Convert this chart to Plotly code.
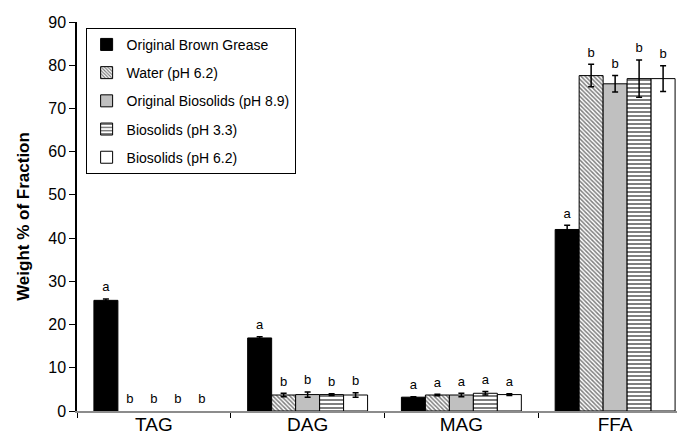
import plotly.graph_objects as go

# ---------------------------------------------------------------------------
# Data
# ---------------------------------------------------------------------------
categories = ["TAG", "DAG", "MAG", "FFA"]
series_names = [
    "Original Brown Grease",
    "Water (pH 6.2)",
    "Original Biosolids (pH 8.9)",
    "Biosolids (pH 3.3)",
    "Biosolids (pH 6.2)",
]
brown_grease = [25.6, 16.9, 3.2, 42.0]
water = [0.0, 3.7, 3.7, 77.6]
orig_biosolids = [0.0, 3.8, 3.7, 75.7]
biosolids_33 = [0.0, 3.8, 4.1, 76.9]
biosolids_62 = [0.0, 3.7, 3.8, 76.9]

brown_grease_err = [0.3, 0.3, 0.1, 1.0]
water_err = [0.0, 0.4, 0.2, 2.6]
orig_biosolids_err = [0.0, 0.6, 0.4, 1.9]
biosolids_33_err = [0.0, 0.2, 0.4, 4.3]
biosolids_62_err = [0.0, 0.5, 0.2, 3.0]

brown_grease_sig = ["a", "a", "a", "a"]
water_sig = ["b", "b", "a", "b"]
orig_biosolids_sig = ["b", "b", "a", "b"]
biosolids_33_sig = ["b", "b", "a", "b"]
biosolids_62_sig = ["b", "b", "a", "b"]

values = [brown_grease, water, orig_biosolids, biosolids_33, biosolids_62]
errors = [brown_grease_err, water_err, orig_biosolids_err, biosolids_33_err, biosolids_62_err]
letters = [brown_grease_sig, water_sig, orig_biosolids_sig, biosolids_33_sig, biosolids_62_sig]

# ---------------------------------------------------------------------------
# Styling
# ---------------------------------------------------------------------------
FONT = "Liberation Sans, Arial, sans-serif"
BARGAP = 0.22
styles = [
    dict(color="black", pattern=dict(shape="")),
    dict(color="white", pattern=dict(shape="\\", fgcolor="black", bgcolor="white", size=3, solidity=0.5)),
    dict(color="#C0C0C0", pattern=dict(shape="")),
    dict(color="white", pattern=dict(shape="-", fgcolor="black", bgcolor="white", size=4, solidity=0.5)),
    dict(color="white", pattern=dict(shape="")),
]

x_pos = list(range(len(categories)))
n = len(series_names)
bar_w = (1 - BARGAP) / n

fig = go.Figure()
for j, name in enumerate(series_names):
    st = styles[j]
    # empty (zero) bars are not drawn at all in the original
    ys = [v if v > 0 else None for v in values[j]]
    err = [e if v > 0 else None for v, e in zip(values[j], errors[j])]
    fig.add_trace(go.Bar(
        x=x_pos, y=ys, name=name, legendgroup=name,
        marker=dict(color=st["color"], pattern=st["pattern"],
                    line=dict(color="black", width=1)),
        error_y=dict(type="data", array=err, visible=True,
                     color="black", thickness=1.5, width=3),
    ))

# significance letters above each bar / error bar
for j in range(n):
    xs = [i + (j - (n - 1) / 2) * bar_w for i in x_pos]
    ys = [v + e + 1.0 for v, e in zip(values[j], errors[j])]
    fig.add_trace(go.Scatter(
        x=xs, y=ys, text=letters[j], mode="text", textposition="top center",
        textfont=dict(family=FONT, size=13, color="black"),
        showlegend=False, hoverinfo="skip",
    ))

fig.update_layout(
    width=685, height=437,
    margin=dict(l=69, r=1, t=14, b=34),
    paper_bgcolor="white", plot_bgcolor="white",
    barmode="group", bargap=BARGAP, bargroupgap=0,
    font=dict(family=FONT, size=16, color="black"),
    showlegend=True,
    legend=dict(
        x=0.014, y=0.985, xanchor="left", yanchor="top",
        bordercolor="black", borderwidth=1, bgcolor="white",
        font=dict(family=FONT, size=14, color="black"),
        tracegroupgap=7, itemwidth=30,
    ),
    xaxis=dict(
        range=[-0.5, 3.5], tickvals=x_pos, ticktext=categories,
        ticks="", showgrid=False, zeroline=False,
        showline=True, linecolor="#8C8C8C", linewidth=2,
        tickfont=dict(family=FONT, size=19, color="black"),
        ticklabelstandoff=-5,
        minor=dict(tick0=0.5, dtick=1, ticks="outside", ticklen=5,
                   tickcolor="black", showgrid=False),
    ),
    yaxis=dict(
        range=[0, 90], dtick=10, showgrid=False, zeroline=False,
        showline=True, linecolor="black", linewidth=1.5,
        ticks="outside", ticklen=6, tickcolor="black",
        tickfont=dict(family=FONT, size=16, color="black"),
        title=dict(text="<b>Weight % of Fraction</b>", standoff=14,
                   font=dict(family=FONT, size=17, color="black")),
    ),
)

fig.write_html("out.html")
